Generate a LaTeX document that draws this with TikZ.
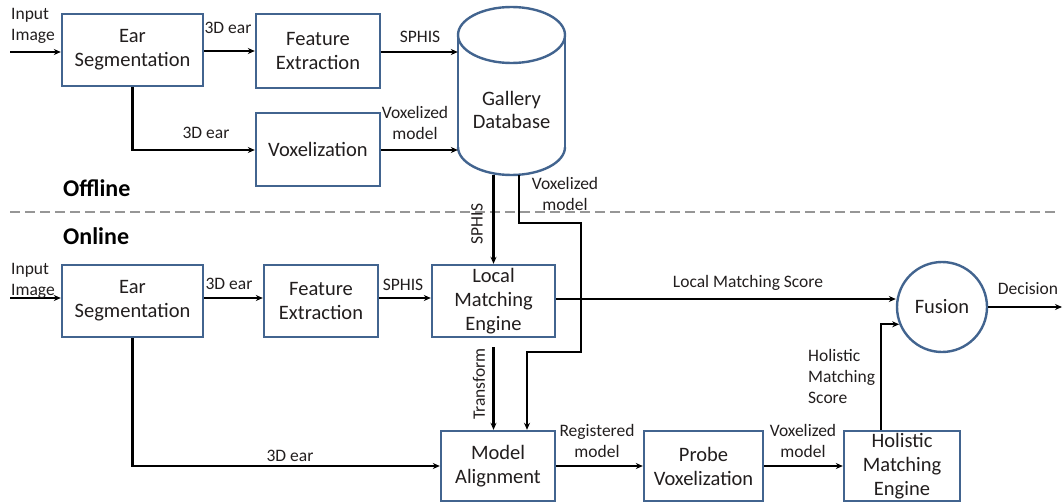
\documentclass[tikz,border=0pt]{standalone}
\usepackage{fontspec}
\setmainfont{Carlito}
\usetikzlibrary{arrows.meta,calc}
\definecolor{boxblue}{RGB}{66,100,143}
\definecolor{txt}{RGB}{34,30,30}
\definecolor{sepgray}{RGB}{150,150,150}
\tikzset{
  blk/.style={draw=boxblue, line width=2.4pt, fill=white, align=center,
    text=txt, font=\fontsize{20.5}{24}\selectfont, inner sep=0pt},
  lbl/.style={text=txt, font=\fontsize{17.5}{21}\selectfont, inner sep=0pt, align=center},
  arr/.style={line width=2.2pt, -{Stealth[length=7pt,width=6pt]}},
  wire/.style={line width=2.2pt},
}
\begin{document}
\begin{tikzpicture}[x=1pt,y=-1pt]
\useasboundingbox (0,0) rectangle (1064,503);

% ---------------- offline stage ----------------
\node[blk, minimum width=141pt, minimum height=72pt] (seg1) at (132.5,50) {Ear\\Segmentation};
\node[blk, minimum width=124pt, minimum height=74pt] (fe1) at (318,51) {Feature\\Extraction};
\node[blk, minimum width=124pt, minimum height=73pt] (vox) at (318,149.5) {Voxelization};

% gallery database cylinder
\fill[white] (458,35) rectangle (565,147);
\fill[white] (511.5,147) ellipse (53.5 and 28);
\begin{scope}
  \clip (450,147) rectangle (575,185);
  \draw[boxblue, line width=2.4pt] (511.5,147) ellipse (53.5 and 28);
\end{scope}
\draw[boxblue, line width=2.4pt] (458,35) -- (458,147) (565,35) -- (565,147);
\draw[boxblue, line width=2.4pt, fill=white] (511.5,35) ellipse (53.5 and 28);
\node[lbl, minimum width=107pt, minimum height=167pt] (db) at (511.5,91.5) {};
\node[lbl, font=\fontsize{20.5}{23}\selectfont] (dbtext) at (511.5,110) {Gallery\\Database};

\coordinate (in1) at (10,52);
\draw[arr] (in1) -- (in1 -| seg1.west);
\node[lbl, align=left, anchor=west] (in1lbl) at (11,26) {Input\\Image};

\draw[arr] (seg1.east |- 0,51) -- (fe1.west |- 0,51);
\node[lbl] (ear1lbl) at (228,28) {3D ear};

\draw[arr] (fe1.east |- 0,52) -- (db.west |- 0,52);
\node[lbl] (sphis1lbl) at (420,37) {SPHIS};

\draw[arr] (seg1.south) |- (vox.west |- 0,150);
\node[lbl] (ear2lbl) at (206,133) {3D ear};

\draw[arr] (vox.east |- 0,150) -- (db.west |- 0,150);
\node[lbl] (vm1lbl) at (415,122.5) {Voxelized\\model};

\node[text=black, font=\fontsize{24}{28}\selectfont\bfseries, anchor=west, inner sep=0pt] (offline) at (63,188) {Offline};

% separator between offline and online stages
\draw[sepgray, line width=2.4pt, dash pattern=on 10pt off 5pt] (10,212) -- (1058,212);

\node[text=black, font=\fontsize{24}{28}\selectfont\bfseries, anchor=west, inner sep=0pt] (online) at (63,236) {Online};

% ---------------- online stage ----------------
\node[blk, minimum width=141pt, minimum height=72pt] (seg2) at (132.5,301) {Ear\\Segmentation};
\node[blk, minimum width=114pt, minimum height=72pt] (fe2) at (321,301) {Feature\\Extraction};
\node[blk, minimum width=123pt, minimum height=72pt] (lme) at (493.5,301) {Local\\Matching\\Engine};
\node[circle, draw=boxblue, line width=2.4pt, fill=white, minimum size=90pt, inner sep=0pt,
      text=txt, font=\fontsize{20.5}{24}\selectfont] (fusion) at (942,307) {Fusion};
\node[blk, minimum width=114pt, minimum height=70pt] (ma) at (498,466) {Model\\Alignment};
\node[blk, minimum width=119pt, minimum height=70pt] (pv) at (703.5,466) {Probe\\Voxelization};
\node[blk, minimum width=116pt, minimum height=70pt] (hme) at (902,466) {Holistic\\Matching\\Engine};

\coordinate (in2) at (10,298);
\draw[arr] (in2) -- (in2 -| seg2.west);
\node[lbl, align=left, anchor=west] (in2lbl) at (11,281) {Input\\Image};

\draw[arr] (seg2.east |- 0,298) -- (fe2.west |- 0,298);
\node[lbl] (ear3lbl) at (229,284) {3D ear};

\draw[arr] (fe2.east |- 0,298) -- (lme.west |- 0,298);
\node[lbl] (sphis2lbl) at (403,285) {SPHIS};

% gallery features down to the local matcher
\coordinate (dbA) at (493.5,175);
\draw[arr] (dbA) -- (lme.north);
\node[lbl, rotate=90] (sphis3lbl) at (477,224) {SPHIS};

% gallery voxel model routed to the alignment block
\coordinate (dbB) at (519,175);
\draw[arr] (dbB) -- (519,223) -- (581,223) -- (581,352) -- (527,352) -- (ma.north -| 527,0);
\node[lbl] (vm2lbl) at (565,193.5) {Voxelized\\model};

\draw[arr] (lme.east |- 0,299) -- (fusion.west |- 0,299);
\node[lbl] (lmslbl) at (748,283) {Local Matching Score};

\coordinate (dec) at (1062,307);
\draw[arr] (fusion.east) -- (dec);
\node[lbl] (declbl) at (1028,289) {Decision};

\draw[arr] ([yshift=-9pt]lme.south) -- (lme.south |- ma.north);
\node[lbl, rotate=90] (trlbl) at (479,384) {Transform};

\draw[arr] (seg2.south) |- (ma.west);
\node[lbl] (ear4lbl) at (290,456) {3D ear};

\draw[arr] (ma.east) -- (pv.west);
\node[lbl] (reglbl) at (597,441) {Registered\\model};

\draw[arr] (pv.east) -- (hme.west);
\node[lbl] (vm3lbl) at (803,441) {Voxelized\\model};

\draw[arr] ([xshift=-21pt]hme.north) |- (fusion.202);
\node[lbl, align=left, anchor=west] (hmslbl) at (808,376.5) {Holistic\\Matching\\Score};

\end{tikzpicture}
\end{document}
